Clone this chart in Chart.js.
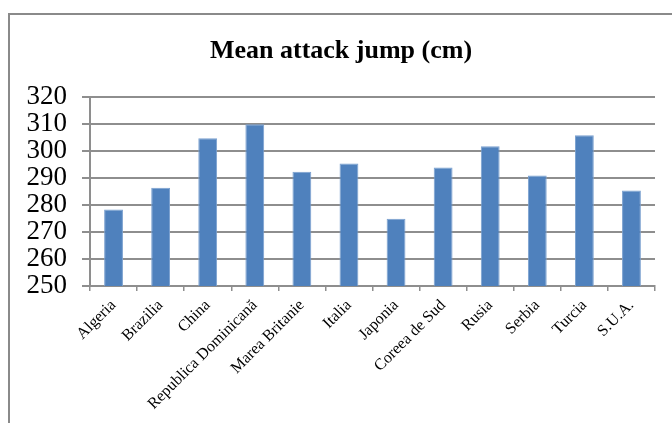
<!DOCTYPE html>
<html>
<head>
<meta charset="UTF-8">
<title>Mean attack jump</title>
<script src="https://cdn.jsdelivr.net/npm/chart.js"></script>
<style>
    body { margin: 0; background: #fff; overflow: hidden; }
    #frame {
        position: absolute;
        left: 8px;
        top: 13px;
        width: 676px;
        height: 430px;
        border: 2px solid #8a8a8a;
    }
    #chart { display: block; }
</style>
</head>
<body>
<div id="frame">
    <canvas id="chart" width="676" height="408"></canvas>
</div>
<script>
    // donnees
    const countries = ["Algeria", "Brazilia", "China", "Republica Dominicană", "Marea Britanie", "Italia",
                       "Japonia", "Coreea de Sud", "Rusia", "Serbia", "Turcia", "S.U.A."];
    const jumpValues = [278.4, 286.4, 304.8, 310, 292.4, 295.4, 274.9, 293.9, 301.8, 291, 305.9, 285.4];
    const yMin = 250, yMax = 320, yStep = 10;

    const gridColor = "#8e8e8e";

    new Chart(document.getElementById("chart"), {
        type: "bar",
        data: {
            labels: countries,
            datasets: [{
                label: "Mean attack jump (cm)",
                data: jumpValues,
                backgroundColor: "#4f81bd",
                borderColor: "#7aa0cf",
                borderWidth: 1,
                barPercentage: 0.4,
                categoryPercentage: 1
            }]
        },
        options: {
            responsive: false,
            animation: false,
            layout: { padding: { left: 17, right: 31, top: 0, bottom: 0 } },
            plugins: {
                legend: { display: false },
                tooltip: { enabled: false },
                title: {
                    display: true,
                    text: "Mean attack jump (cm)",
                    color: "#000",
                    font: { family: "Liberation Serif", size: 26, weight: "bold" },
                    padding: { top: 21, bottom: 30 }
                }
            },
            scales: {
                x: {
                    afterFit: s => { s.height = 137; },
                    grid: { display: true, drawOnChartArea: false, drawTicks: true, tickLength: 5, color: gridColor, lineWidth: 1.5 },
                    border: { display: true, color: gridColor, width: 2 },
                    ticks: {
                        color: "#000",
                        minRotation: 45,
                        maxRotation: 45,
                        autoSkip: false,
                        padding: 5,
                        font: { family: "Liberation Serif", size: 16 }
                    }
                },
                y: {
                    min: yMin,
                    max: yMax,
                    afterFit: s => { s.width = 63; },
                    grid: { color: gridColor, lineWidth: 2, tickLength: 8 },
                    border: { display: true, color: gridColor, width: 2 },
                    ticks: {
                        stepSize: yStep,
                        autoSkip: false,
                        color: "#000",
                        padding: 15,
                        font: { family: "Liberation Serif", size: 27 }
                    }
                }
            }
        }
    });
</script>
</body>
</html>
